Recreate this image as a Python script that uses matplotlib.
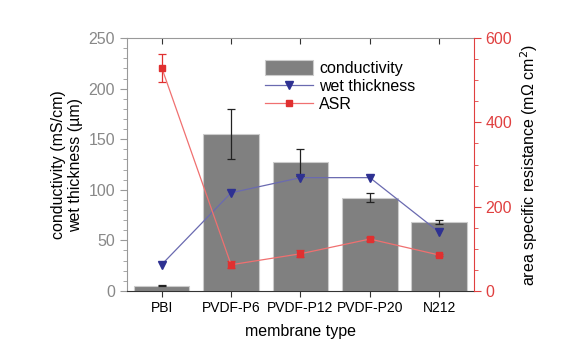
import matplotlib
matplotlib.use("Agg")
import matplotlib.pyplot as plt
from matplotlib.ticker import MultipleLocator
from matplotlib.lines import Line2D
import numpy as np

plt.rcParams['font.family'] = ['Liberation Sans', 'DejaVu Sans']

categories = ["PBI", "PVDF-P6", "PVDF-P12", "PVDF-P20", "N212"]
conductivity = [5, 155, 127, 92, 68]
conductivity_err = [0.5, 25, 13, 4.5, 2]
wet_thickness = [26, 97, 112, 112, 58]
asr = [530, 62, 88, 123, 85]
asr_err = [33, 8, 8, 5, 2]

fig = plt.figure(figsize=(5.88, 3.5), dpi=100)
ax = fig.add_axes([0.216, 0.169, 0.59, 0.722])
x = np.arange(len(categories))

bars = ax.bar(x, conductivity, width=0.8, color="#808080", edgecolor="#cccccc",
              linewidth=0.8, label="conductivity", zorder=2)
ax.errorbar(x, conductivity, yerr=conductivity_err, fmt="none", ecolor="#222222",
            elinewidth=0.9, capsize=3, capthick=0.9, zorder=3)
wl, = ax.plot(x, wet_thickness, color="#6a6ab0", lw=0.9, marker="v",
              markersize=6, markerfacecolor="#2e3192", markeredgecolor="#2e3192",
              label="wet thickness", zorder=4)

ax.set_xlim(-0.5, 4.5)
ax.set_ylim(0, 250)
ax.set_xticks(x)
ax.set_xticklabels(categories, fontsize=10)
ax.yaxis.set_major_locator(MultipleLocator(50))
ax.yaxis.set_minor_locator(MultipleLocator(10))
ax.tick_params(axis='y', which='both', direction='out', colors="#999999",
               labelcolor="#888888", labelsize=11.5)
ax.tick_params(axis='y', which='major', length=5)
ax.tick_params(axis='y', which='minor', length=3)
ax.tick_params(axis='x', which='major', direction='out', length=4,
               colors="#333333", labelcolor="black")
ax.set_xlabel("membrane type", fontsize=11.5, labelpad=6)
ax.set_ylabel("conductivity (mS/cm)\nwet thickness (µm)", fontsize=11.5, labelpad=4)
for s in ["top", "left"]:
    ax.spines[s].set_color("#999999")
ax.spines["bottom"].set_color("#333333")
ax.spines["right"].set_visible(False)

top = ax.secondary_xaxis('top')
top.set_xticks(x)
top.set_xticklabels([])
top.tick_params(direction='in', length=4, colors="#333333")
top.spines['top'].set_visible(False)

ax2 = ax.twinx()
ax2.errorbar(x, asr, yerr=asr_err, color="#f07070", lw=0.9, marker="s",
             markersize=5, markerfacecolor="#e03030", markeredgecolor="#e03030",
             ecolor="#e03030", elinewidth=0.9, capsize=3, capthick=0.9,
             label="ASR", zorder=5)
ax2.set_ylim(0, 600)
ax2.yaxis.set_major_locator(MultipleLocator(200))
ax2.yaxis.set_minor_locator(MultipleLocator(50))
ax2.tick_params(axis='y', which='both', direction='out', colors="#e04040",
                labelcolor="#e04040", labelsize=11.5)
ax2.tick_params(axis='y', which='major', length=5)
ax2.tick_params(axis='y', which='minor', length=3)
ax2.spines["right"].set_color("#e04040")
for s in ["top", "left", "bottom"]:
    ax2.spines[s].set_visible(False)
ax2.set_ylabel("area specific resistance (mΩ cm$^2$)", fontsize=11.5, labelpad=4)

asr_handle = Line2D([], [], color="#f07070", lw=0.9, marker="s", markersize=5,
                    markerfacecolor="#e03030", markeredgecolor="#e03030")
ax.legend([bars, wl, asr_handle], ["conductivity", "wet thickness", "ASR"],
          loc="upper left", bbox_to_anchor=(0.37, 0.95), frameon=False,
          fontsize=11.5, handlelength=3.0, handleheight=1.0,
          labelspacing=0.15, borderaxespad=0.2, handletextpad=0.4)

fig.savefig("out.png", dpi=100)
